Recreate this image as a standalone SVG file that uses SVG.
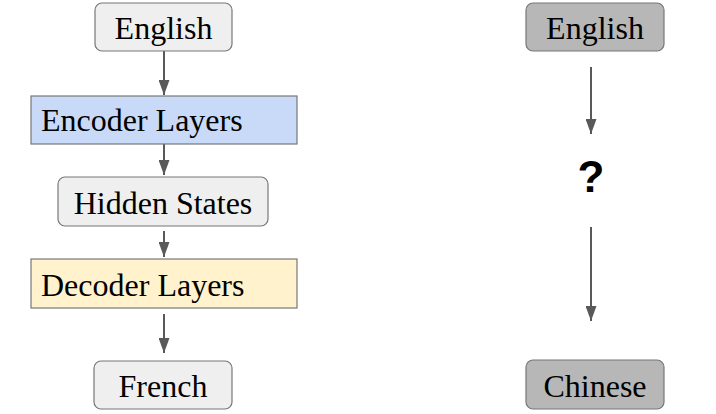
<svg xmlns="http://www.w3.org/2000/svg" width="716" height="414" viewBox="0 0 716 414">
<style>
.box{stroke:#777;stroke-width:1.2}
.light{fill:#efefef}
.dark{fill:#b7b7b7}
.t{font-family:"Liberation Serif","Times New Roman",serif;font-size:32px;fill:#000}
.c{stroke:#595959;stroke-width:2;fill:none}
</style>
<defs>
<marker id="ah" viewBox="0 0 15 11" refX="15" refY="5.5" markerWidth="15" markerHeight="11" markerUnits="userSpaceOnUse" orient="auto">
<path d="M0,0 L15,5.5 L0,11 z" fill="#595959"/>
</marker>
</defs>
<rect width="716" height="414" fill="#fff"/>
<g id="connectors">
<path class="c" d="M164,51 V95" marker-end="url(#ah)"/>
<path class="c" d="M164,144 V175" marker-end="url(#ah)"/>
<path class="c" d="M164,231 V257" marker-end="url(#ah)"/>
<path class="c" d="M164,314 V353" marker-end="url(#ah)"/>
<path class="c" d="M591,67 V134" marker-end="url(#ah)"/>
<path class="c" d="M591,227 V321" marker-end="url(#ah)"/>
</g>
<g id="english-left">
<rect class="box light" x="95" y="3" width="137" height="48" rx="7"/>
<text class="t" x="163.5" y="39" text-anchor="middle">English</text>
</g>
<g id="encoder">
<rect class="box" x="31" y="96" width="266" height="48" fill="#c9daf8"/>
<text class="t" x="41" y="131">Encoder Layers</text>
</g>
<g id="hidden">
<rect class="box light" x="58" y="177" width="210" height="49" rx="7"/>
<text class="t" x="163" y="214" text-anchor="middle">Hidden States</text>
</g>
<g id="decoder">
<rect class="box" x="31" y="259" width="266" height="49" fill="#fff2cc"/>
<text class="t" x="41" y="296">Decoder Layers</text>
</g>
<g id="french">
<rect class="box light" x="94" y="361" width="138" height="48" rx="7"/>
<text class="t" x="163" y="397" text-anchor="middle">French</text>
</g>
<g id="english-right">
<rect class="box dark" x="526" y="3" width="138" height="48" rx="7"/>
<text class="t" x="595" y="39" text-anchor="middle">English</text>
</g>
<g id="question">
<text x="591" y="192" text-anchor="middle" font-family="Liberation Sans,Arial,sans-serif" font-weight="bold" font-size="44">?</text>
</g>
<g id="chinese">
<rect class="box dark" x="526" y="360" width="138" height="49" rx="7"/>
<text class="t" x="595" y="397" text-anchor="middle">Chinese</text>
</g>
</svg>
